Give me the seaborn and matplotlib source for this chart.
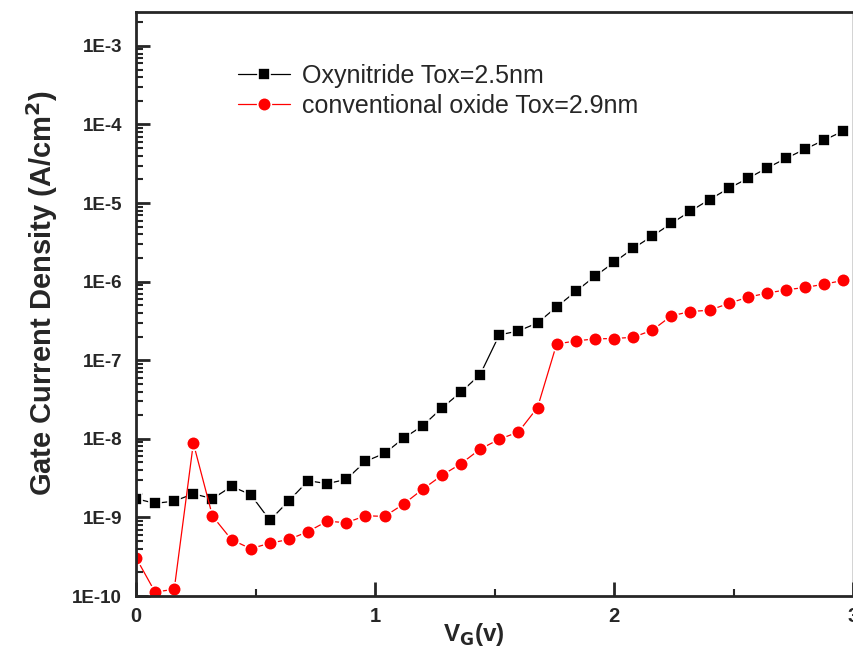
import matplotlib
matplotlib.use("Agg")
import matplotlib.pyplot as plt
import matplotlib.ticker as mticker
import seaborn as sns
import numpy as np
import pandas as pd

# gate voltage steps (V)
vg = [0.00, 0.08, 0.16, 0.24, 0.32, 0.40, 0.48, 0.56, 0.64, 0.72,
      0.80, 0.88, 0.96, 1.04, 1.12, 1.20, 1.28, 1.36, 1.44, 1.52,
      1.60, 1.68, 1.76, 1.84, 1.92, 2.00, 2.08, 2.16, 2.24, 2.32,
      2.40, 2.48, 2.56, 2.64, 2.72, 2.80, 2.88, 2.96]

# Oxynitride Tox=2.5nm (A/cm^2)
j_oxynitride = [1.73e-9, 1.51e-9, 1.61e-9, 2.0e-9, 1.73e-9, 2.48e-9, 1.95e-9, 9.2e-10, 1.63e-9, 2.93e-9,
                2.69e-9, 3.05e-9, 5.17e-9, 6.53e-9, 1.02e-8, 1.47e-8, 2.47e-8, 3.94e-8, 6.58e-8, 2.10e-7,
                2.36e-7, 2.98e-7, 4.78e-7, 7.5e-7, 1.17e-6, 1.76e-6, 2.65e-6, 3.80e-6, 5.5e-6, 7.9e-6,
                1.11e-5, 1.54e-5, 2.06e-5, 2.79e-5, 3.71e-5, 4.87e-5, 6.35e-5, 8.26e-5]

# conventional oxide Tox=2.9nm (A/cm^2)
j_oxide = [3.07e-10, 1.12e-10, 1.22e-10, 8.8e-9, 1.04e-9, 5.2e-10, 4.0e-10, 4.7e-10, 5.25e-10, 6.6e-10,
           8.97e-10, 8.55e-10, 1.05e-9, 1.03e-9, 1.48e-9, 2.29e-9, 3.43e-9, 4.83e-9, 7.4e-9, 9.9e-9,
           1.22e-8, 2.5e-8, 1.61e-7, 1.76e-7, 1.87e-7, 1.89e-7, 1.96e-7, 2.41e-7, 3.67e-7, 4.17e-7,
           4.33e-7, 5.28e-7, 6.35e-7, 7.14e-7, 7.87e-7, 8.44e-7, 9.29e-7, 1.04e-6]

labels = ["Oxynitride Tox=2.5nm", "conventional oxide Tox=2.9nm"]

sns.set_style("ticks")
plt.rcParams['font.family'] = ['Liberation Sans', 'DejaVu Sans']

df = pd.DataFrame({'vg': vg, 'ox': j_oxynitride, 'conv': j_oxide})

fig = plt.figure(figsize=(8.54, 6.57), dpi=100)
ax = fig.add_axes([136 / 854, 61 / 657, 717 / 854, 584 / 657])

sns.lineplot(data=df, x='vg', y='ox', ax=ax, color='black', lw=0.9,
             marker='s', markersize=8.5, markeredgecolor='white', markeredgewidth=1.2,
             label=labels[0])
sns.lineplot(data=df, x='vg', y='conv', ax=ax, color='red', lw=0.9,
             marker='o', markersize=9.8, markeredgecolor='white', markeredgewidth=1.2,
             label=labels[1])

ax.set_yscale('log')
ax.set_xlim(0, 3)
ax.set_ylim(1e-10, 2.7e-3)

ax.xaxis.set_major_locator(mticker.MultipleLocator(1))
ax.xaxis.set_minor_locator(mticker.MultipleLocator(0.5))
ax.yaxis.set_major_locator(mticker.LogLocator(base=10, numticks=20))
ax.yaxis.set_minor_locator(mticker.LogLocator(base=10, subs=np.arange(2, 10), numticks=20))
ax.yaxis.set_major_formatter(mticker.FuncFormatter(lambda v, p: "1E%d" % round(np.log10(v))))
ax.xaxis.set_major_formatter(mticker.FuncFormatter(lambda v, p: "%d" % v))

ax.tick_params(which='major', direction='in', length=10, width=2)
ax.tick_params(which='minor', direction='in', length=5, width=1.5)
ax.tick_params(axis='y', which='major', labelsize=13.5, pad=10)
ax.tick_params(axis='x', which='major', labelsize=14.5, pad=8)
for lab in ax.get_xticklabels() + ax.get_yticklabels():
    lab.set_fontweight('bold')

for side in ['left', 'bottom', 'top']:
    ax.spines[side].set_linewidth(2)
ax.spines['right'].set_linewidth(1)

ax.set_xlabel(r"V$_\mathbf{G}$(v)", fontsize=17.5, fontweight='bold')
ax.set_ylabel(r"Gate Current Density (A/cm$^\mathbf{2}$)", fontsize=21, fontweight='bold')
ax.xaxis.set_label_coords(0.471, -0.043)
ax.yaxis.set_label_coords(-0.106, 0.519)

ax.legend(loc='upper left', bbox_to_anchor=(0.142, 0.911), frameon=False, fontsize=18,
          handlelength=2.1, handletextpad=0.45, labelspacing=0.24, borderpad=0,
          borderaxespad=0)

fig.savefig("out.png", dpi=100)
